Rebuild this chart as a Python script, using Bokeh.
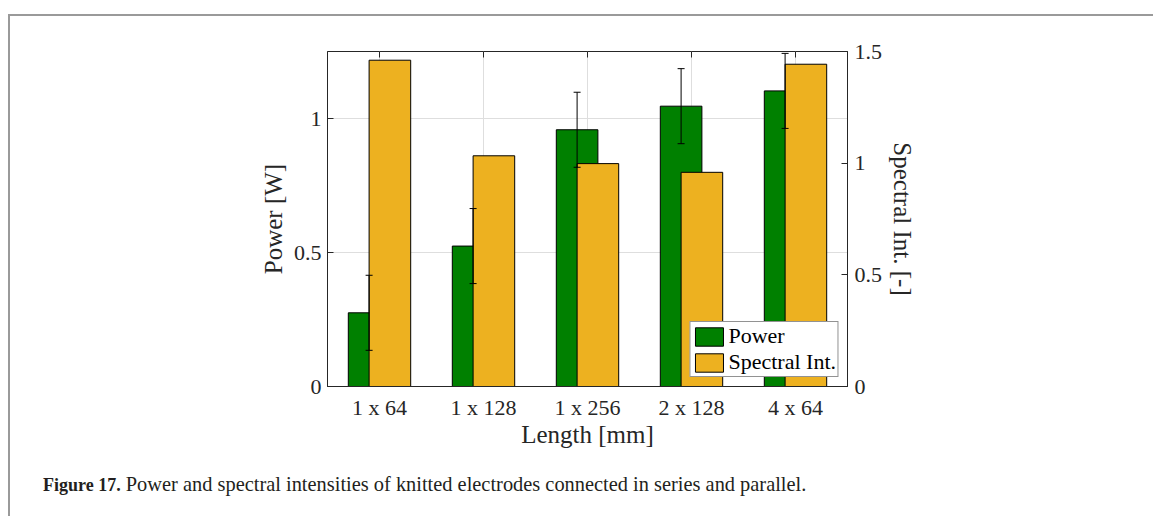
import math
from bokeh.plotting import figure
from bokeh.layouts import column
from bokeh.models import (ColumnDataSource, Range1d, LinearAxis, FixedTicker, Whisker,
                          TeeHead, Legend, LegendItem, NumeralTickFormatter,
                          CustomJSTickFormatter, Div)
from bokeh.transform import dodge
from bokeh.embed import file_html
from bokeh.resources import INLINE

# ---- data ----
categories = ["1 x 64", "1 x 128", "1 x 256", "2 x 128", "4 x 64"]
power = [0.275, 0.524, 0.958, 1.046, 1.103]
power_err = [0.14, 0.14, 0.14, 0.14, 0.14]
spectral = [1.461, 1.033, 0.998, 0.959, 1.443]
left_ticks = [0, 0.5, 1]
right_ticks = [0, 0.5, 1, 1.5]
caption_bold = "Figure 17."
caption_text = "Power and spectral intensities of knitted electrodes connected in series and parallel."

pos = list(range(1, len(categories) + 1))
upper = [v + e for v, e in zip(power, power_err)]
lower = [v - e for v, e in zip(power, power_err)]
src = ColumnDataSource(dict(pos=pos, cat=categories, power=power, spectral=spectral,
                            upper=upper, lower=lower))

FONT = "Liberation Serif"
AX = "#262626"

p = figure(x_range=Range1d(0.5, len(categories) + 0.5), y_range=Range1d(0, 1.25),
           width=1143, height=449, output_backend="svg", toolbar_location=None,
           min_border_left=317, min_border_right=306, min_border_top=35,
           min_border_bottom=79, background_fill_color="white",
           border_fill_color="white", x_axis_location=None, y_axis_location=None)
p.extra_y_ranges = {"spec": Range1d(0, 1.5)}

g = p.vbar(x=dodge("pos", -0.1), top="power", width=0.4, source=src,
           fill_color="#008000", line_color="black", line_width=1)
yb = p.vbar(x=dodge("pos", 0.1), top="spectral", width=0.4, source=src,
            fill_color="#EDB120", line_color="black", line_width=1, y_range_name="spec")

w = Whisker(base=dodge("pos", -0.1), upper="upper", lower="lower",
            source=src, line_color="black", line_width=1, level="annotation",
            upper_head=TeeHead(size=7, line_color="black", line_width=1),
            lower_head=TeeHead(size=7, line_color="black", line_width=1))
p.add_layout(w)

cat_fmt = CustomJSTickFormatter(args=dict(cats=categories),
                                code="const i = Math.round(tick) - 1; return (i >= 0 && i < cats.length) ? cats[i] : '';")
blank_fmt = CustomJSTickFormatter(code="return '';")
num_fmt = NumeralTickFormatter(format="0.[0]")

# bottom axis
xa = LinearAxis(ticker=FixedTicker(ticks=pos), formatter=cat_fmt,
                major_tick_line_color=None, minor_tick_line_color=None,
                axis_line_color=AX, major_label_text_font=FONT,
                major_label_text_font_size="22px", major_label_text_color=AX,
                major_label_standoff=2, axis_label="Length [mm]",
                axis_label_text_font=FONT, axis_label_text_font_size="25px",
                axis_label_text_font_style="normal", axis_label_text_color=AX,
                axis_label_standoff=-2)
p.add_layout(xa, "below")

# top axis (ticks only)
ta = LinearAxis(ticker=FixedTicker(ticks=pos), formatter=blank_fmt,
                axis_line_color=None, major_tick_in=6, major_tick_out=0,
                minor_tick_line_color=None, major_tick_line_color=AX,
                major_label_standoff=0)
p.add_layout(ta, "above")

# left axis
ya = LinearAxis(ticker=FixedTicker(ticks=left_ticks), formatter=num_fmt,
                major_tick_in=6, major_tick_out=0, minor_tick_line_color=None,
                axis_line_color=AX, major_tick_line_color=AX,
                major_label_text_font=FONT, major_label_text_font_size="22px",
                major_label_text_color=AX, major_label_standoff=6,
                axis_label="Power [W]", axis_label_text_font=FONT,
                axis_label_text_font_size="25px", axis_label_text_font_style="normal",
                axis_label_text_color=AX, axis_label_standoff=4)
p.add_layout(ya, "left")

# right axis
ra = LinearAxis(y_range_name="spec", ticker=FixedTicker(ticks=right_ticks),
                formatter=num_fmt, major_tick_in=6, major_tick_out=0,
                minor_tick_line_color=None, axis_line_color=AX,
                major_tick_line_color=AX, major_label_text_font=FONT,
                major_label_text_font_size="22px", major_label_text_color=AX,
                major_label_standoff=7, axis_label="Spectral Int. [-]",
                axis_label_text_font=FONT, axis_label_text_font_size="25px",
                axis_label_text_font_style="normal", axis_label_text_color=AX,
                axis_label_standoff=4)
if "axis_label_orientation" in ra.properties():
    ra.axis_label_orientation = "vertical"
p.add_layout(ra, "right")

# grid
p.xgrid.ticker = FixedTicker(ticks=pos)
p.ygrid.ticker = FixedTicker(ticks=left_ticks)
p.xgrid.grid_line_color = "#dedede"
p.ygrid.grid_line_color = "#dedede"
p.outline_line_color = AX
p.outline_line_width = 1

legend = Legend(items=[LegendItem(label="Power", renderers=[g]),
                       LegendItem(label="Spectral Int.", renderers=[yb])],
                location="bottom_right", margin=9, padding=1, spacing=0,
                glyph_width=35, glyph_height=23, label_height=23, label_standoff=2,
                label_text_font=FONT, label_text_font_size="22px",
                label_text_color="black", border_line_color=AX, border_line_width=1,
                background_fill_color="white", background_fill_alpha=1)
p.add_layout(legend)

cap = Div(text='<b style="font-size:18px">%s</b> %s' % (caption_bold, caption_text),
          width=1143, height=43,
          styles={"font-family": FONT, "font-size": "20.4px", "color": "#231f20",
                  "padding-left": "28px", "white-space": "nowrap"})

lay = column(p, cap, spacing=0)
lay.styles = {"margin-top": "14px", "margin-left": "8px",
              "border-top": "2px solid #9a9a9a", "border-left": "2px solid #9a9a9a"}

open("out.html", "w").write(file_html(lay, INLINE))
